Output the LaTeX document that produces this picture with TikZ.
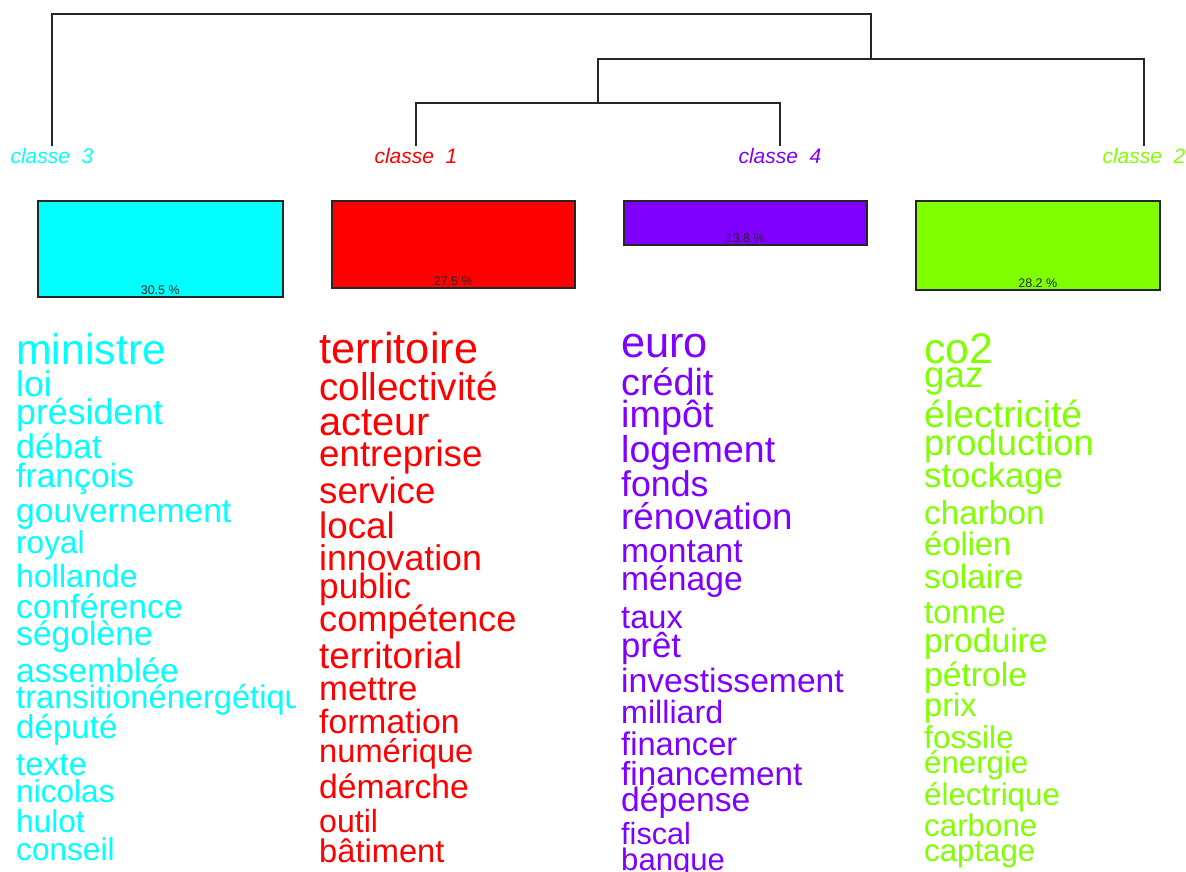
\documentclass[tikz,border=0pt]{standalone}
\usepackage{fontspec}
\setmainfont{Liberation Sans}
\definecolor{ccyan}{RGB}{0,255,255}
\definecolor{cred}{RGB}{255,0,0}
\definecolor{cpurple}{RGB}{128,0,255}
\definecolor{cgreen}{RGB}{128,255,0}
\begin{document}
\begin{tikzpicture}[x=1pt,y=-1pt,
  dend/.style={draw=black!85, line width=1.2pt},
  cls/.style={font=\fontsize{21}{21}\selectfont\itshape, inner sep=0pt, anchor=base},
  bar/.style={draw=black!85, line width=1.6pt, anchor=north west, inner sep=0pt, minimum width=#1pt},
  pct/.style={font=\fontsize{12.5}{12.5}\selectfont, inner sep=0pt, anchor=base, text=black!85},
  wrd/.style={inner sep=0pt, anchor=base west, text=#1}]
\useasboundingbox (0,0) rectangle (1186,871);
% class labels
\node[cls, text=ccyan]   (l3) at (52,163)   {classe\ \ 3};
\node[cls, text=cred]    (l1) at (416,163)  {classe\ \ 1};
\node[cls, text=cpurple] (l4) at (780,163)  {classe\ \ 4};
\node[cls, text=cgreen]  (l2) at (1144,163) {classe\ \ 2};
% dendrogram
\coordinate (m14) at (598,103);
\coordinate (m142) at (871,59);
\coordinate (root) at (460,14);
\draw[dend] ([yshift=2pt]l1.north) |- (m14) -| ([yshift=2pt]l4.north);
\draw[dend] (m14) |- (m142) -| ([yshift=2pt]l2.north);
\draw[dend] ([yshift=2pt]l3.north) |- (root) -| (m142);
% bars
\node[bar=245, fill=ccyan,   minimum height=96pt] (b3) at (37,200) {};
\node[bar=243, fill=cred,    minimum height=87pt] (b1) at (331,200) {};
\node[bar=243, fill=cpurple, minimum height=44pt] (b4) at (623,200) {};
\node[bar=244, fill=cgreen,  minimum height=89pt] (b2) at (915,200) {};
\node[pct] (p3) at ([yshift=3pt]b3.south) {30.5 \%};
\node[pct] (p1) at ([yshift=3pt]b1.south) {27.5 \%};
\node[pct] (p4) at ([yshift=3pt]b4.south) {13.8 \%};
\node[pct] (p2) at ([yshift=3pt]b2.south) {28.2 \%};
% classe 3 words
\begin{scope}
\clip (0,300) rectangle (295,871);
\foreach \t/\y/\s [count=\i] in {ministre/364/42, loi/396/35, président/424/35, débat/458/33.5, françois/487/33, gouvernement/522/33, royal/553/31, hollande/587/31.5, conférence/618/33, ségolène/645/33, assemblée/682/33, transitionénergétique/708/32, député/738/32.5, texte/775/32, nicolas/802/31, hulot/832/31, conseil/860/31}
  {\pgfmathsetmacro\ss{\s*1.02}
  \node[wrd=ccyan, font=\fontsize{\ss}{\ss}\selectfont] (wc3-\i) at (16,\y) {\t};}
\end{scope}
% classe 1 words
\foreach \t/\y/\s [count=\i] in {territoire/363/42.5, collectivité/400/38, acteur/435/39, entreprise/466/36, service/503/36, local/538/36, innovation/570/35, public/598/34.5, compétence/631/35.5, territorial/668/36, mettre/700/34, formation/733/33, numérique/762/32, démarche/798/33, outil/832/31.5, bâtiment/862/32}
  {\pgfmathsetmacro\ss{\s*1.02}
  \node[wrd=cred, font=\fontsize{\ss}{\ss}\selectfont] (wc1-\i) at (319,\y) {\t};}
% classe 4 words
\foreach \t/\y/\s [count=\i] in {euro/357/42.5, crédit/395/37, impôt/427/37, logement/462/36.7, fonds/496/35, rénovation/529/36, montant/562/33, ménage/590/33, taux/628/32, prêt/657/34, investissement/692/33, milliard/723/31.6, financer/755/32, financement/785/32.6, dépense/811/33, fiscal/844/30, banque/870/30.5}
  {\pgfmathsetmacro\ss{\s*1.02}
  \node[wrd=cpurple, font=\fontsize{\ss}{\ss}\selectfont] (wc4-\i) at (621,\y) {\t};}
% classe 2 words
\foreach \t/\y/\s [count=\i] in {co2/363/42, gaz/387/36, électricité/427/36.7, production/455/35.6, stockage/487/34, charbon/524/32.7, éolien/555/32, solaire/588/33, tonne/623/32, produire/652/33, pétrole/686/33, prix/716/32, fossile/748/31, énergie/773/30.6, électrique/805/30.7, carbone/836/30.7, captage/861/30.6}
  {\pgfmathsetmacro\ss{\s*1.02}
  \node[wrd=cgreen, font=\fontsize{\ss}{\ss}\selectfont] (wc2-\i) at (924,\y) {\t};}
\end{tikzpicture}
\end{document}
